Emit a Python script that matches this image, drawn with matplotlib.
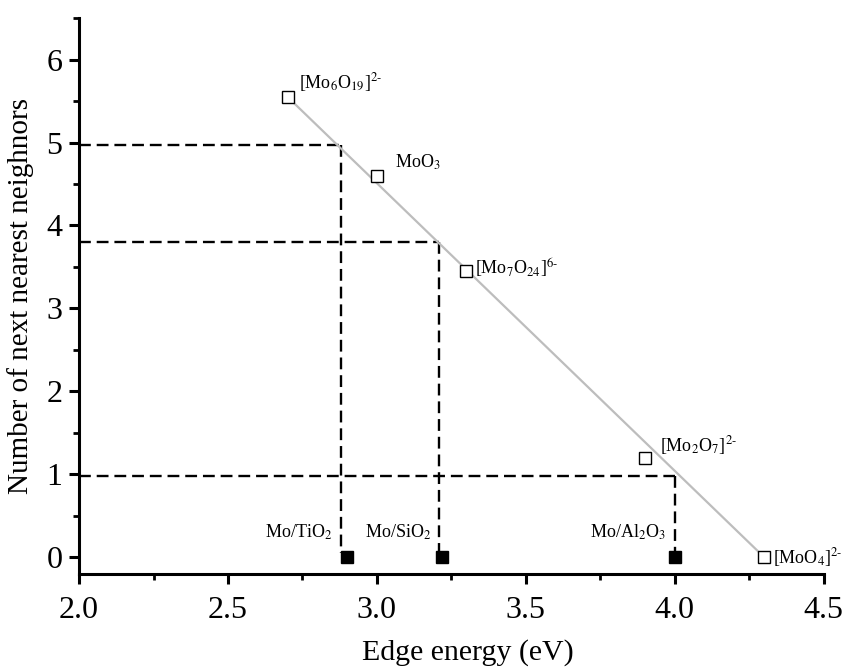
import matplotlib
matplotlib.use('Agg')
import matplotlib.pyplot as plt
import matplotlib.ticker as ticker

plt.rcParams['font.family'] = 'Liberation Serif'
plt.rcParams['mathtext.fontset'] = 'stix'

# reference compounds (open squares)
ref_x = [2.7, 3.0, 3.3, 3.9, 4.3]
ref_y = [5.55, 4.6, 3.45, 1.2, 0.0]
ref_labels = [r'[Mo$_6$O$_{19}$]$^{2\text{-}}$', r'MoO$_3$', r'[Mo$_7$O$_{24}$]$^{6\text{-}}$',
              r'[Mo$_2$O$_7$]$^{2\text{-}}$', r'[MoO$_4$]$^{2\text{-}}$']
ref_label_pos = [(2.74, 5.72), (3.06, 4.76), (3.33, 3.48), (3.95, 1.35), (4.33, 0.0)]

# fit line
fit_x = [2.7, 4.3]
fit_y = [5.55, 0.0]

# supported samples (filled squares)
samp_x = [2.90, 3.22, 4.00]
samp_y = [0.0, 0.0, 0.0]
samp_labels = [r'Mo/TiO$_2$', r'Mo/SiO$_2$', r'Mo/Al$_2$O$_3$']
samp_label_pos = [(2.85, 0.30), (2.96, 0.30), (3.97, 0.30)]
samp_label_ha = ['right', 'left', 'right']

# dashed guide lines: (edge energy, neighbours)
guide_x = [2.88, 3.21, 4.00]
guide_y = [4.97, 3.80, 0.98]

fig = plt.figure(figsize=(8.5, 6.71), dpi=100)
ax = fig.add_axes([0.093, 0.145, 0.876, 0.828])

ax.plot(fit_x, fit_y, color='#bdbdbd', lw=1.6, zorder=2)

for gx, gy in zip(guide_x, guide_y):
    ax.plot([2.0, gx], [gy, gy], color='k', lw=1.7, linestyle=(0, (5, 2.5)), zorder=1)
    ax.plot([gx, gx], [gy, 0.05], color='k', lw=1.7, linestyle=(0, (5, 2.5)), zorder=1)

ax.plot(ref_x, ref_y, linestyle='none', marker='s', markersize=8, markerfacecolor='white',
        markeredgecolor='k', markeredgewidth=1.0, zorder=3, clip_on=False)
ax.plot(samp_x, samp_y, linestyle='none', marker='s', markersize=8, color='k', zorder=3,
        clip_on=False)

for lab, (tx, ty) in zip(ref_labels, ref_label_pos):
    ax.text(tx, ty, lab, fontsize=13, ha='left', va='center')
for lab, (tx, ty), ha in zip(samp_labels, samp_label_pos, samp_label_ha):
    ax.text(tx, ty, lab, fontsize=13, ha=ha, va='center')

ax.set_xlim(2.0, 4.5)
ax.set_ylim(-0.2, 6.5)
ax.xaxis.set_major_locator(ticker.MultipleLocator(0.5))
ax.xaxis.set_minor_locator(ticker.MultipleLocator(0.25))
ax.xaxis.set_major_formatter(ticker.FormatStrFormatter('%.1f'))
ax.yaxis.set_major_locator(ticker.MultipleLocator(1))
ax.yaxis.set_minor_locator(ticker.MultipleLocator(0.5))

ax.spines['top'].set_visible(False)
ax.spines['right'].set_visible(False)
ax.spines['left'].set_linewidth(2.2)
ax.spines['bottom'].set_linewidth(2.2)
ax.tick_params(which='major', length=7, width=2.2, labelsize=23, direction='out')
ax.tick_params(axis='x', which='major', pad=9)
ax.tick_params(axis='y', which='major', pad=5)
ax.tick_params(which='minor', length=4, width=2.0, direction='out')

ax.set_xlabel('Edge energy (eV)', fontsize=21.5, va='center')
ax.xaxis.set_label_coords(0.522, -0.142)
ax.set_ylabel('Number of next nearest neighnors', fontsize=21, labelpad=9)

fig.savefig('out.png', dpi=100)
